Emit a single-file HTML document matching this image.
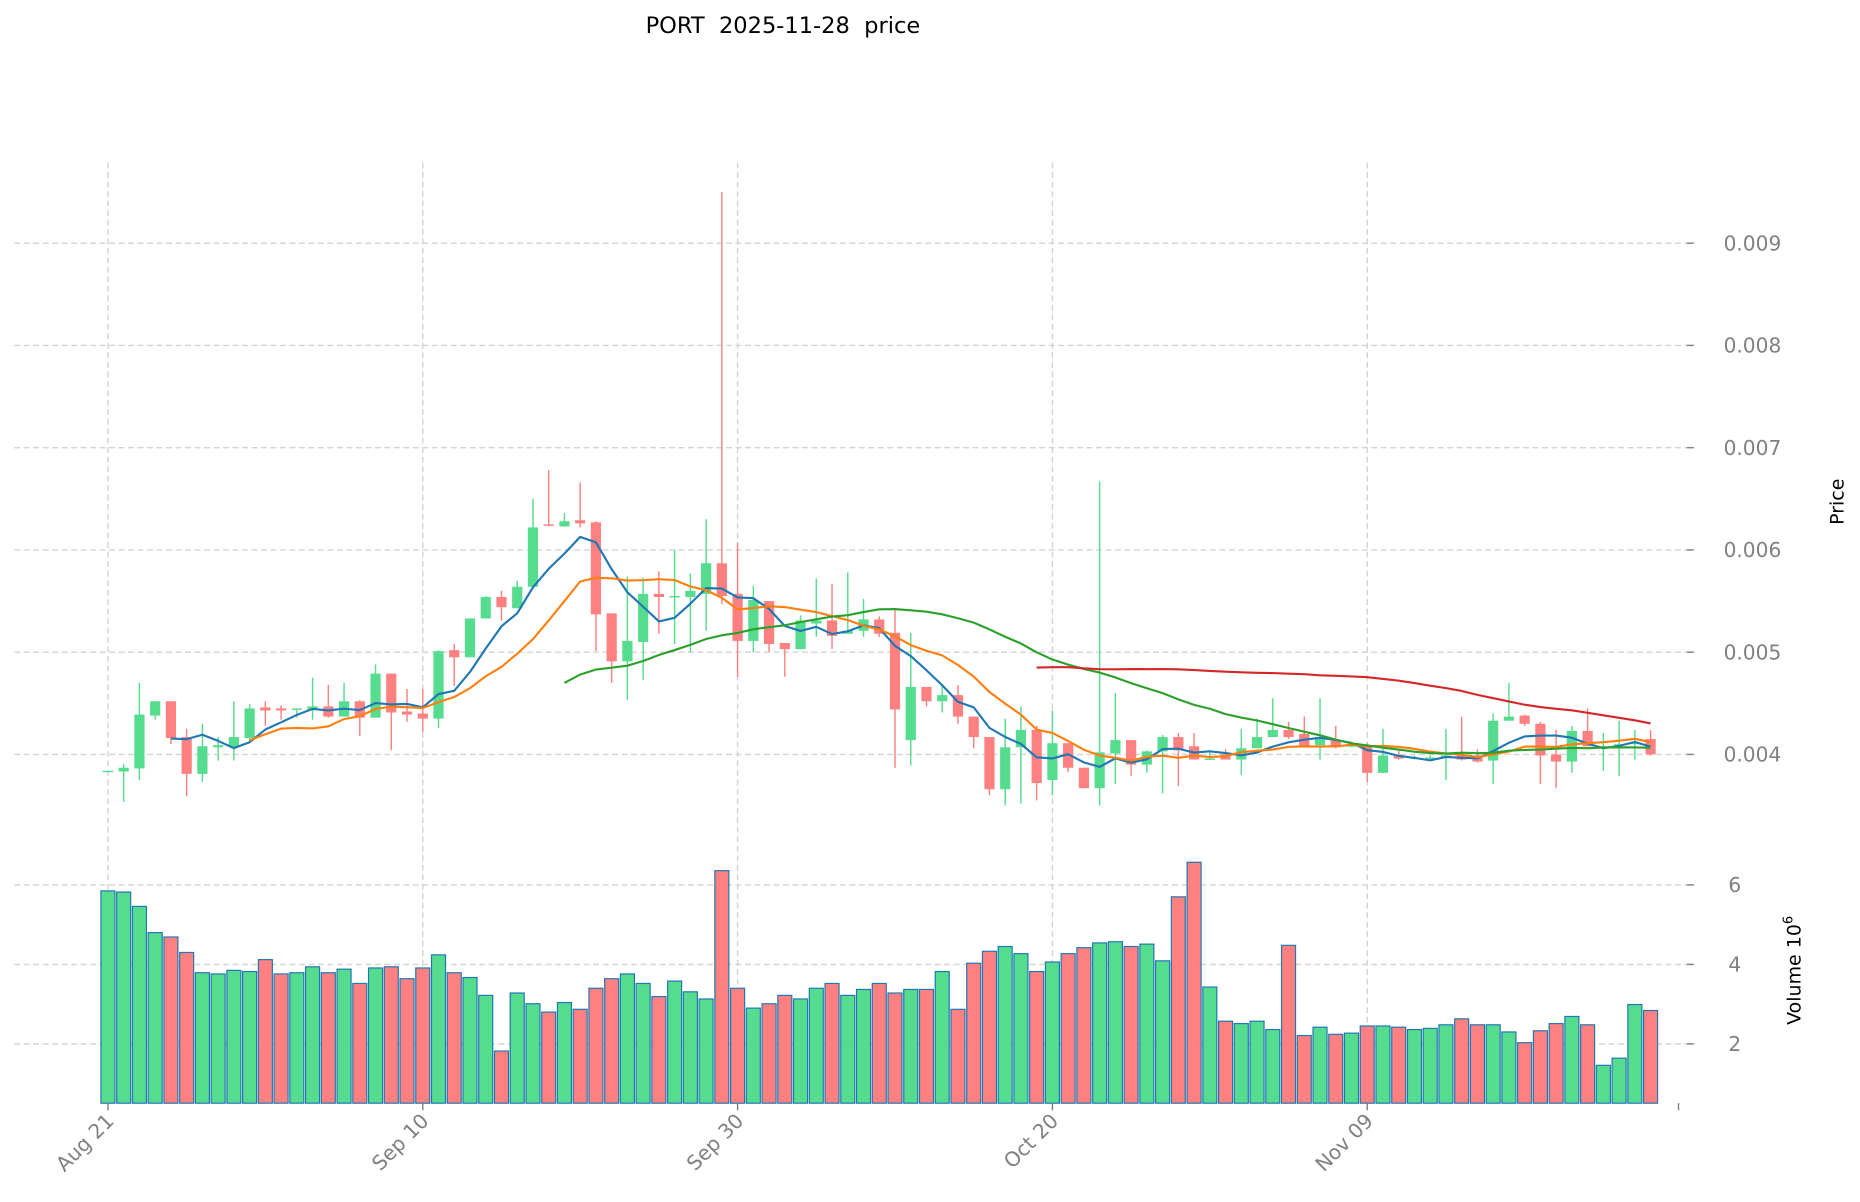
<!DOCTYPE html>
<html><head><meta charset="utf-8"><style>
html,body{margin:0;padding:0;background:#fff;}
svg{display:block;font-family:"DejaVu Sans","Liberation Sans",sans-serif;}
</style></head><body>
<svg id="chart" width="1860" height="1202" viewBox="0 0 1568 1013.3" preserveAspectRatio="none" xmlns="http://www.w3.org/2000/svg">
<text x="660" y="28" font-size="19" text-anchor="middle" fill="#000" style="white-space:pre" xml:space="preserve">PORT  2025-11-28  price</text>
<g id="grid"></g>
<g id="vol"></g>
<g id="candles"></g>
<g id="mas"></g>
<g id="axes"></g>
<text transform="translate(1554,423) rotate(-90)" font-size="16" text-anchor="middle" fill="#000">Price</text>
<text transform="translate(1518,818) rotate(-90)" font-size="16" text-anchor="middle" fill="#000">Volume  10<tspan font-size="11" dy="-7">6</tspan></text>
</svg>
<script>
const startDate = [2025, 7, 21];
const opens  = [0.00384,0.003834,0.003863,0.00438,0.00452,0.00417,0.00381,0.00407,0.00407,0.00416,0.00446,0.00445,0.00444,0.00444,0.00447,0.00437,0.00452,0.00436,0.00479,0.00442,0.0044,0.00435,0.00502,0.00495,0.00533,0.00554,0.00543,0.00564,0.00625,0.00623,0.00629,0.00627,0.00538,0.00491,0.0051,0.00557,0.00554,0.00554,0.00557,0.00587,0.00557,0.00511,0.0055,0.00509,0.00503,0.00528,0.00531,0.00518,0.00521,0.00532,0.00519,0.00414,0.00466,0.00452,0.00458,0.00437,0.00417,0.00366,0.00407,0.00424,0.00375,0.00411,0.00387,0.00367,0.00401,0.00414,0.0039,0.00403,0.00417,0.00408,0.00396,0.004,0.00395,0.00406,0.00417,0.00424,0.0042,0.00409,0.00414,0.00409,0.00408,0.00382,0.00399,0.00397,0.00397,0.00397,0.004,0.00399,0.00394,0.00433,0.00438,0.0043,0.004,0.00393,0.00423,0.00408,0.0041,0.0041,0.00415];
const closes = [0.00384,0.00387,0.00439,0.00452,0.00416,0.00381,0.00408,0.00409,0.00417,0.00445,0.00443,0.00443,0.00445,0.00447,0.00437,0.00452,0.00436,0.00479,0.00441,0.00439,0.00435,0.00501,0.00495,0.00533,0.00554,0.00544,0.00564,0.00622,0.00624,0.00628,0.00626,0.00537,0.00491,0.00511,0.00557,0.00554,0.00555,0.0056,0.00587,0.00555,0.00511,0.00551,0.00508,0.00503,0.00531,0.00531,0.00516,0.00521,0.00532,0.00518,0.00444,0.00466,0.00452,0.00458,0.00437,0.00417,0.00366,0.00407,0.00424,0.00372,0.00411,0.00387,0.00367,0.00402,0.00414,0.0039,0.00403,0.00417,0.00404,0.00395,0.00396,0.00395,0.00406,0.00417,0.00424,0.00417,0.00408,0.00415,0.00407,0.00409,0.00382,0.00399,0.00396,0.00397,0.00397,0.00399,0.00395,0.00393,0.00433,0.00437,0.0043,0.00399,0.00393,0.00423,0.00408,0.00408,0.0041,0.00412,0.004];
const highs  = [0.00384,0.003905,0.0047,0.00452,0.00452,0.00425,0.0043,0.00417,0.00452,0.00449,0.00452,0.00448,0.00445,0.00475,0.00468,0.0047,0.00453,0.00488,0.00479,0.00464,0.00464,0.00502,0.00508,0.00533,0.00555,0.0056,0.0057,0.0065,0.00678,0.00636,0.00666,0.00628,0.00538,0.00574,0.00573,0.00579,0.006,0.00577,0.0063,0.0095,0.00607,0.00565,0.0055,0.00509,0.00536,0.00572,0.00567,0.00578,0.00552,0.00535,0.00543,0.00519,0.00466,0.00469,0.00468,0.00437,0.00417,0.00435,0.00447,0.00428,0.00443,0.00411,0.00387,0.00667,0.0046,0.00414,0.00404,0.00419,0.00421,0.00421,0.00404,0.00405,0.00425,0.00435,0.00455,0.00432,0.00437,0.00455,0.00428,0.00411,0.00411,0.00425,0.00404,0.00399,0.00399,0.00425,0.00437,0.00405,0.0044,0.0047,0.00439,0.00432,0.00424,0.00428,0.00445,0.00421,0.00433,0.00424,0.00424];
const lows   = [0.00384,0.003536,0.00375,0.00434,0.0041,0.00359,0.00373,0.00394,0.00394,0.00412,0.00428,0.00434,0.00436,0.00434,0.00436,0.00437,0.00418,0.00436,0.00404,0.00432,0.00422,0.00426,0.00467,0.00495,0.00533,0.00531,0.00543,0.00564,0.00623,0.00623,0.00622,0.00501,0.0047,0.00453,0.00473,0.00518,0.00508,0.005,0.00521,0.00547,0.00476,0.005,0.005,0.00476,0.00503,0.00515,0.00503,0.00518,0.00515,0.00515,0.00387,0.00389,0.00447,0.00441,0.0043,0.00406,0.0036,0.0035,0.00352,0.00355,0.0036,0.00383,0.00367,0.0035,0.00371,0.00379,0.00382,0.00362,0.00369,0.00395,0.00395,0.00395,0.0038,0.00406,0.00417,0.00415,0.00407,0.00395,0.00406,0.00407,0.00373,0.00382,0.00395,0.00395,0.00395,0.00375,0.00394,0.00392,0.00371,0.00433,0.00428,0.00371,0.00367,0.00382,0.00408,0.00384,0.00379,0.00395,0.00399];
const volumes = [5.85,5.82,5.46,4.8,4.69,4.3,3.79,3.76,3.85,3.82,4.12,3.76,3.79,3.94,3.79,3.88,3.52,3.91,3.94,3.64,3.91,4.24,3.79,3.67,3.22,1.82,3.28,3.01,2.8,3.04,2.87,3.4,3.64,3.76,3.52,3.19,3.58,3.31,3.13,6.36,3.4,2.9,3.01,3.22,3.13,3.4,3.52,3.22,3.37,3.52,3.28,3.37,3.37,3.82,2.87,4.03,4.33,4.45,4.27,3.82,4.06,4.27,4.42,4.54,4.57,4.45,4.51,4.09,5.7,6.57,3.43,2.57,2.51,2.57,2.36,4.48,2.21,2.42,2.24,2.27,2.45,2.45,2.42,2.36,2.39,2.48,2.63,2.48,2.48,2.3,2.03,2.33,2.51,2.69,2.48,1.46,1.64,2.99,2.84];
const priceTicks = [0.004,0.005,0.006,0.007,0.008,0.009];
const priceTickLabels = ["0.004","0.005","0.006","0.007","0.008","0.009"];
const volTicks = [2,4,6];
const volTickLabels = ["2","4","6"];
const dateTickIdx = [0,20,40,60,80];
const dateTickLabels = ["Aug 21","Sep 10","Sep 30","Oct 20","Nov 09"];
const maPeriods = [5,10,30,60];
const maColors = ["#1f77b4","#ff7f0e","#2ca02c","#d62728"];

const NS="http://www.w3.org/2000/svg";
const X0=12, X1=1420, PT=137, VB=930;
function xs(i){return 91+13.27*i;}
function yp(p){return 636-(p-0.004)*86200;}
function yv(v){return 947-33.5*v;}
function mk(tag,attrs,parent){const e=document.createElementNS(NS,tag);for(const k in attrs)e.setAttribute(k,attrs[k]);parent.appendChild(e);return e;}
const grid=document.getElementById('grid'),vol=document.getElementById('vol'),cg=document.getElementById('candles'),mg=document.getElementById('mas'),ax=document.getElementById('axes');
const GS={stroke:"#d3d3d3","stroke-width":1.2,"stroke-dasharray":"5,3",fill:"none"};
priceTicks.forEach((t,k)=>{
  const y=yp(t);
  const l=mk('line',Object.assign({x1:X0,x2:X1+8,y1:y,y2:y},GS),grid);
  
  
  const tk=mk('line',{x1:X1+2,x2:X1+8,y1:y,y2:y,stroke:"#808080","stroke-width":1.2},ax);
  
  
  const tx=mk('text',{x:X1+33,y:y+6,"font-size":17,fill:"#808080"},ax);tx.textContent=priceTickLabels[k];
  
  
});
volTicks.forEach((t,k)=>{
  const y=yv(t);
  const l=mk('line',Object.assign({x1:X0,x2:X1+8,y1:y,y2:y},GS),grid);
  
  
  const tk=mk('line',{x1:X1+2,x2:X1+8,y1:y,y2:y,stroke:"#808080","stroke-width":1.2},ax);
  
  
  const tx=mk('text',{x:X1+37,y:y+6,"font-size":17,fill:"#808080"},ax);tx.textContent=volTickLabels[k];
  
  
});
dateTickIdx.forEach((d,k)=>{
  const x=xs(d);
  const l=mk('line',Object.assign({x1:x,x2:x,y1:PT,y2:VB},GS),grid);
  
  
  const tk=mk('line',{x1:x,x2:x,y1:VB,y2:VB+6,stroke:"#808080","stroke-width":1.2},ax);
  
  
  const tx=mk('text',{transform:`translate(${x+6},${VB+16}) rotate(-45)`,"font-size":17,fill:"#808080","text-anchor":"end"},ax);tx.textContent=dateTickLabels[k];
  
  
});
const endTick=mk('line',{x1:1415,x2:1415,y1:VB,y2:VB+6,stroke:"#808080","stroke-width":1.2},ax);


const UP="#56dc8e",DN="#fe8080";
closes.forEach((c,i)=>{
  const o=opens[i],x=xs(i),up=c>=o,col=up?UP:DN;
  const b=mk('rect',{x:x-5.9,y:yv(volumes[i]),width:11.8,height:VB-yv(volumes[i]),fill:col,stroke:"#1f77b4","stroke-width":1},vol);
  
  
  const w=mk('line',{x1:x,x2:x,y1:yp(highs[i]),y2:yp(lows[i]),stroke:col,"stroke-width":1.2},cg);
  
  
  const top=yp(Math.max(o,c)),bot=yp(Math.min(o,c));
  const r=mk('rect',{x:x-4.3,y:top,width:8.6,height:Math.max(bot-top,1.2),fill:col},cg);
  
  
});
maPeriods.forEach((n,k)=>{
  let pts=[];
  for(let i=n-1;i<closes.length;i++){let s=0;for(let j=i-n+1;j<=i;j++)s+=closes[j];pts.push(xs(i).toFixed(1)+","+yp(s/n).toFixed(1));}
  const pl=mk('polyline',{points:pts.join(" "),fill:"none",stroke:maColors[k],"stroke-width":1.8,"stroke-linejoin":"round"},mg);
  
  
});
</script>
</body></html>
